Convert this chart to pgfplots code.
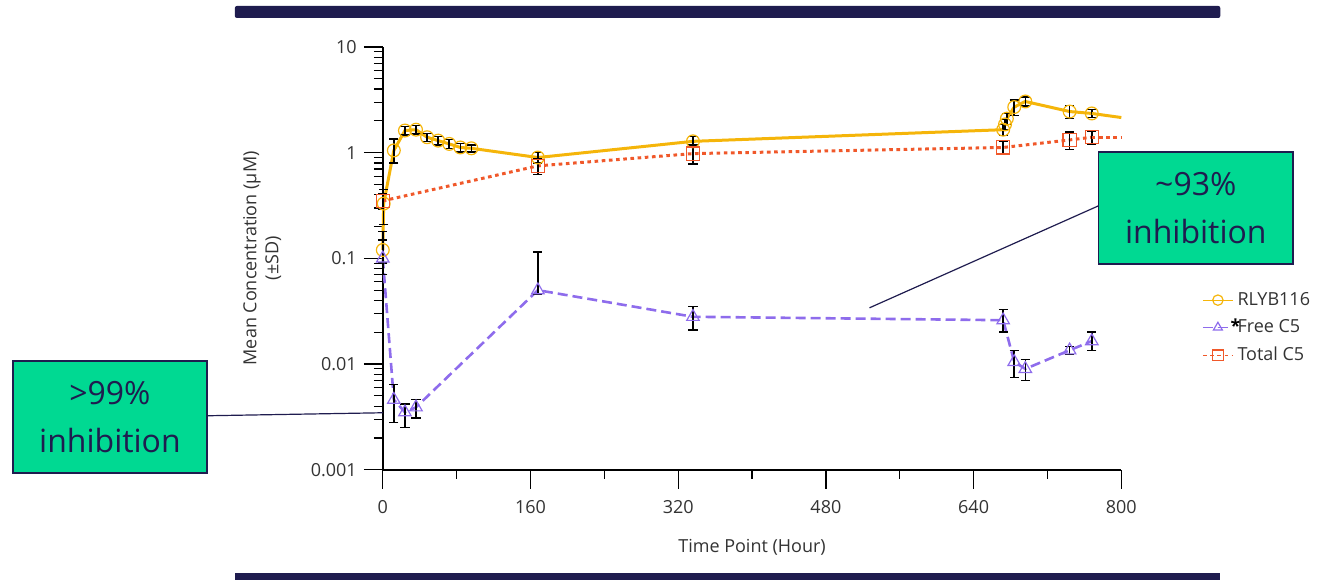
\documentclass[border=0pt]{standalone}
\usepackage{pgfplots}
\pgfplotsset{compat=1.18}
\usepackage{fontspec}
\setmainfont{Open Sans}

\definecolor{rlyb}{HTML}{F5B50A}
\definecolor{freec}{HTML}{8E6CEC}
\definecolor{totalc}{HTML}{F0582A}
\definecolor{navy}{HTML}{1F1C4F}
\definecolor{boxgreen}{HTML}{00D992}
\definecolor{tickgray}{HTML}{333333}

\pgfplotsset{
  sdbars/.style={
    error bars/.cd, y dir=both, y explicit,
    error bar style={black, line width=0.75pt, solid},
    error mark options={rotate=90, black, mark size=2.3pt, line width=0.75pt, solid},
  },
}

\begin{document}
\begin{tikzpicture}
\begin{axis}[
    at={(0,0)}, anchor=south west,
    scale only axis, width=369.5pt, height=211.5pt,
    xmin=0, xmax=800, ymode=log, ymin=0.001, ymax=10,
    axis lines*=left,
    axis line style={black, line width=1pt},
    xtick={0,160,...,800}, minor xtick={80,240,400,560,720},
    ytick={0.001,0.01,0.1,1,10}, yticklabels={0.001,0.01,0.1,1,10},
    tick align=outside, major tick length=9.5pt, minor tick length=4.5pt,
    tick style={black, line width=0.6pt},
    ticklabel style={font=\fontsize{9}{11}\selectfont, text=tickgray},
    xticklabel style={yshift=-2.5pt},
    /pgf/number format/assume math mode=true,
    xlabel={Time Point (Hour)},
    xlabel style={at={(axis description cs:0.5,-0.196)}, anchor=base,
      font=\fontsize{9}{11}\selectfont, text=tickgray},
    ylabel={Mean Concentration (µM)\\(±SD)},
    ylabel style={align=center, at={(axis description cs:-0.128,0.5)}, anchor=south,
      font=\fontsize{9}{11}\selectfont, text=tickgray},
    clip=false,
    legend style={at={(axis description cs:1.101,0.44)}, anchor=north west,
      draw=none, fill=none, font=\fontsize{9}{11}\selectfont, text=tickgray,
      row sep=1.5pt},
    legend cell align=left,
    legend image code/.code={
      \draw[mark repeat=2, mark phase=2, line width=0.6pt, mark size=2.6pt]
        plot coordinates {(0pt,0pt) (7.5pt,0pt) (15pt,0pt)};
    },
  ]

  % RLYB116
  \addplot[rlyb, line width=1.5pt, mark=o, mark size=3.2pt,
    mark options={line width=0.6pt}, sdbars] coordinates {
    (0,0.12) +- (0,0.03)
    (1,0.33) += (0,0.12) -= (0,0.12)
    (12,1.05) += (0,0.3) -= (0,0.25)
    (24,1.62) +- (0,0.15)
    (36,1.65) +- (0,0.15)
    (48,1.40) +- (0,0.12)
    (60,1.30) +- (0,0.12)
    (72,1.21) +- (0,0.12)
    (84,1.12) +- (0,0.1)
    (96,1.10) +- (0,0.08)
    (168,0.90) +- (0,0.1)
    (336,1.28) +- (0,0.15)
    (672,1.65) +- (0,0.2)
    (674,1.85) +- (0,0.2)
    (676,2.1) +- (0,0.25)
    (684,2.7) +- (0,0.45)
    (696,3.05) +- (0,0.3)
    (744,2.45) +- (0,0.35)
    (768,2.35) +- (0,0.2)
  };
  \addlegendentry{RLYB116}

  % Free C5
  \addplot[freec, line width=1.3pt, dash pattern=on 5pt off 2.5pt,
    mark=triangle, mark size=3.6pt, mark options={solid, line width=0.6pt}, sdbars] coordinates {
    (0,0.1) += (0,0.08) -= (0,0.03)
    (12,0.0046) += (0,0.0018) -= (0,0.0018)
    (24,0.0035) += (0,0.0007) -= (0,0.001)
    (36,0.0039) += (0,0.0007) -= (0,0.0008)
    (168,0.05) += (0,0.065) -= (0,0.004)
    (336,0.028) +- (0,0.007)
    (672,0.026) += (0,0.007) -= (0,0.006)
    (684,0.0105) += (0,0.003) -= (0,0.003)
    (696,0.009) += (0,0.002) -= (0,0.002)
    (744,0.0135) +- (0,0.0012)
    (768,0.0165) += (0,0.0035) -= (0,0.003)
  };
  \addlegendentry{\makebox[0pt][r]{\color{black}\bfseries *\kern-1.5pt}Free C5}

  % Total C5
  \addplot[totalc, line width=1.5pt, dash pattern=on 1.8pt off 1.8pt,
    mark=square, mark size=3.3pt, mark options={solid, line width=0.6pt}, sdbars] coordinates {
    (0,0.35) +- (0,0.06)
    (168,0.75) +- (0,0.13)
    (336,0.98) +- (0,0.2)
    (672,1.12) +- (0,0.15)
    (744,1.32) +- (0,0.25)
    (768,1.40) +- (0,0.2)
  };
  \addlegendentry{Total C5}

  % lines running on to the edge of the axis
  \addplot[rlyb, line width=1.5pt, forget plot] coordinates {(768,2.35) (800,2.15)};
  \addplot[totalc, line width=1.5pt, dash pattern=on 1.8pt off 1.8pt, forget plot]
    coordinates {(768,1.40) (800,1.40)};
\end{axis}

\begin{scope}[x=0.5pt, y=-0.5pt, shift={(-191.5pt,235pt)}]
  \path (0,0) rectangle (1320,580);
  \fill[navy, rounded corners=1pt] (235,6) rectangle (1221,18);
  \fill[navy] (235,573) rectangle (1221,580);
  \draw[navy, line width=0.6pt] (207,416) -- (383,413);
  \draw[navy, line width=0.6pt] (870,308) -- (1099,206);
  \filldraw[fill=boxgreen, draw=navy, line width=0.8pt] (13,361) rectangle (207,473);
  \node[align=center, text=navy, font=\fontsize{16}{24}\selectfont]
    at (110,417) {>99\%\\inhibition};
  \filldraw[fill=boxgreen, draw=navy, line width=0.8pt] (1099,152) rectangle (1294,264);
  \node[align=center, text=navy, font=\fontsize{16}{24}\selectfont]
    at (1196.5,208) {\textasciitilde93\%\\inhibition};
\end{scope}
\end{tikzpicture}
\end{document}
